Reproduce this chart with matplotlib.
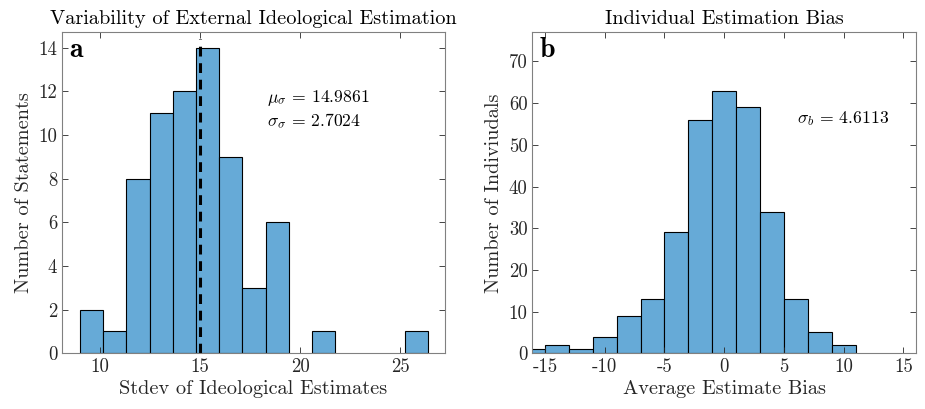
import numpy as np
import matplotlib
matplotlib.use('Agg')
import matplotlib.pyplot as plt

plt.rcParams['font.family'] = 'cmr10'
plt.rcParams['mathtext.fontset'] = 'cm'
plt.rcParams['axes.unicode_minus'] = False
plt.rcParams['axes.formatter.use_mathtext'] = False

# panel a: spread of ideological estimates per statement
stdev_edges = [9.0, 10.16, 11.32, 12.48, 13.64, 14.8, 15.96, 17.12, 18.28,
               19.44, 20.6, 21.76, 22.92, 24.08, 25.24, 26.4]
stdev_counts = [2, 1, 8, 11, 12, 14, 9, 3, 6, 0, 1, 0, 0, 0, 1]
mu_sigma = 14.9861
sigma_sigma = 2.7024

# panel b: average estimate bias per individual
bias_edges = [-17, -15, -13, -11, -9, -7, -5, -3, -1, 1, 3, 5, 7, 9, 11]
bias_counts = [1, 2, 1, 4, 9, 13, 29, 56, 63, 59, 34, 13, 5, 2]
sigma_b = 4.6113

bar_color = '#66AAD7'
axis_gray = '#262626'

fig = plt.figure(figsize=(9.25, 4.09), dpi=100)
ax1 = fig.add_axes([62/925, 1 - 353.3/409, (445-62)/925, (353.3-32.3)/409])
ax2 = fig.add_axes([532.3/925, 1 - 353.3/409, (916-532.3)/925, (353.3-32.3)/409])


def style(ax):
    ax.tick_params(direction='in', top=True, right=True, length=4, width=0.6,
                   colors=axis_gray, labelsize=13.5, labelcolor=axis_gray)
    for s in ax.spines.values():
        s.set_color('#808080')
        s.set_linewidth(0.8)


# --- a ---
for i, c in enumerate(stdev_counts):
    if c > 0:
        ax1.bar(stdev_edges[i], c, width=stdev_edges[i+1] - stdev_edges[i],
                align='edge', color=bar_color, edgecolor='black', linewidth=0.8)
ax1.plot([mu_sigma, mu_sigma], [0, 14.4], color='black', linestyle=(0, (3.2, 2.2)),
         linewidth=2.2)
ax1.set_xlim(8.1, 27.25)
ax1.set_ylim(0, 14.7)
ax1.set_xticks([10, 15, 20, 25])
ax1.set_yticks(range(0, 15, 2))
style(ax1)
ax1.set_title('Variability of External Ideological Estimation', fontsize=14.6,
              pad=6)
ax1.set_xlabel('Stdev of Ideological Estimates', fontsize=14.6, color=axis_gray,
               labelpad=3)
ax1.set_ylabel('Number of Statements', fontsize=14.6, color=axis_gray)
ax1.text(0.018, 0.985, 'a', transform=ax1.transAxes, family='cmb10',
         fontsize=20, va='top', ha='left')
ax1.text(0.535, 0.825, r'$\mu_\sigma$ = %.4f' % mu_sigma + '\n'
         + r'$\sigma_\sigma$ = %.4f' % sigma_sigma,
         transform=ax1.transAxes, fontsize=12.7, va='top', linespacing=1.25)

# --- b ---
ax2.bar(bias_edges[:-1], bias_counts, width=np.diff(bias_edges), align='edge',
        color=bar_color, edgecolor='black', linewidth=0.8)
ax2.set_xlim(-16.06, 16.06)
ax2.set_ylim(0, 77)
ax2.set_xticks(range(-15, 16, 5))
ax2.set_yticks(range(0, 71, 10))
style(ax2)
ax2.set_title('Individual Estimation Bias', fontsize=14.6, pad=6)
ax2.set_xlabel('Average Estimate Bias', fontsize=14.6, color=axis_gray,
               labelpad=3)
ax2.set_ylabel('Number of Indiviudals', fontsize=14.6, color=axis_gray)
ax2.text(0.018, 0.985, 'b', transform=ax2.transAxes, family='cmb10',
         fontsize=20, va='top', ha='left')
ax2.text(0.69, 0.73, r'$\sigma_b$ = %.4f' % sigma_b, transform=ax2.transAxes,
         fontsize=12.7, va='center')

fig.savefig('out.png', dpi=100)
